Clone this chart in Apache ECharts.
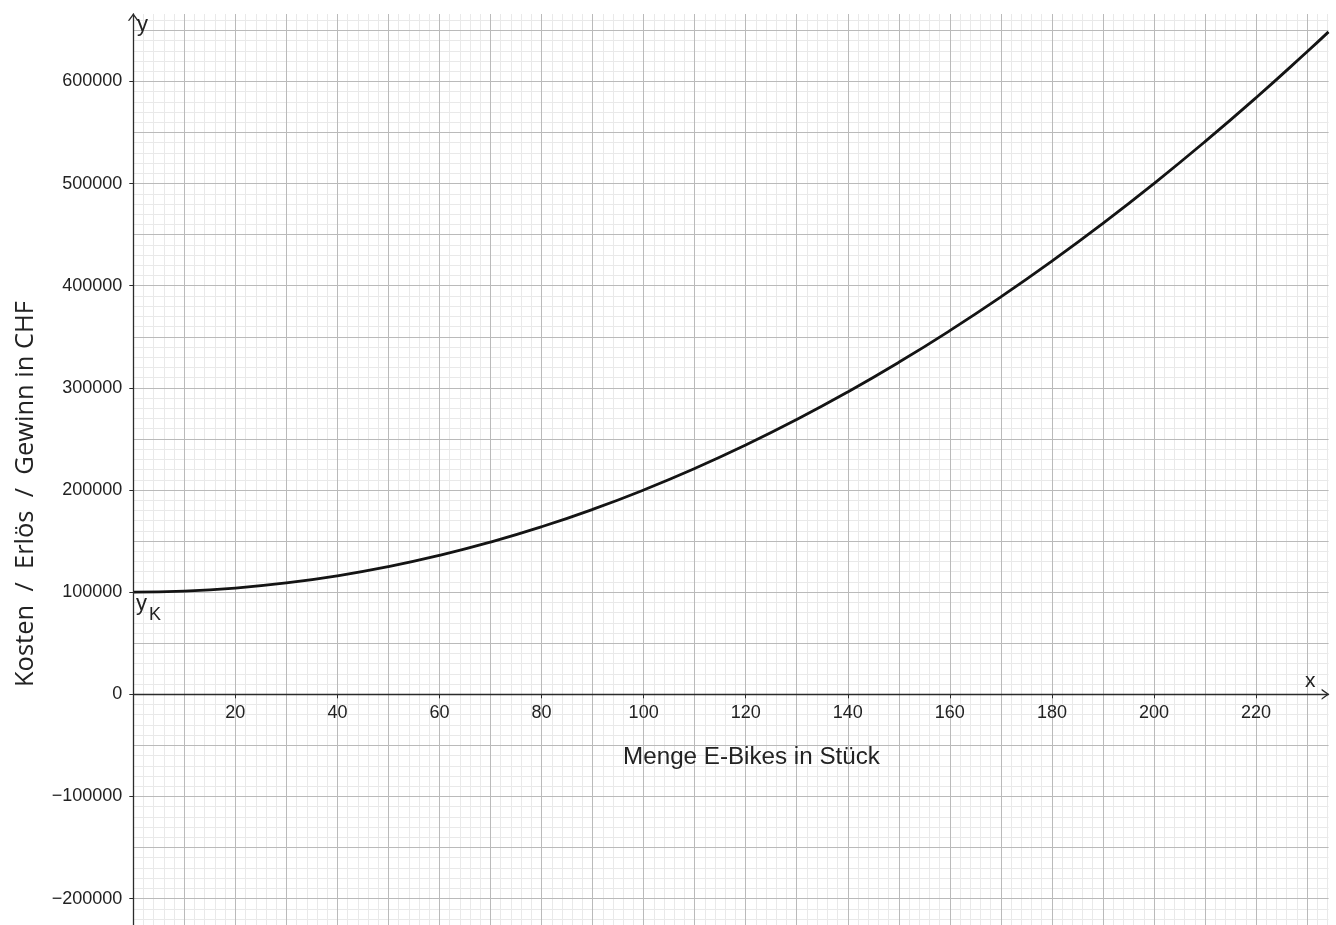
<!DOCTYPE html>
<html>
<head>
<meta charset="utf-8">
<script src="https://cdn.jsdelivr.net/npm/echarts@6/dist/echarts.min.js"></script>
<style>
    html, body { margin: 0; padding: 0; background: #fff; }
    #chart { width: 1336px; height: 925px; }
</style>
</head>
<body>
<div id="chart"></div>
<script>
// Kostenkurve y_K
const mengeX = [0, 10, 20, 30, 40, 50, 60, 70, 80, 90, 100, 110, 120, 130, 140, 150, 160, 170, 180, 190, 200, 210, 220, 230, 234.2];
const kostenY = [100000, 101000, 104000, 109000, 116000, 125000, 136000, 149000, 164000, 181000, 200000, 221000, 244000, 269000, 296000, 325000, 356000, 389000, 424000, 461000, 500000, 541000, 584000, 629000, 648500];

// Achsenbereich
const X_MIN = 0;
const X_MAX = 234.2;
const Y_MIN = -300000;
const Y_MAX = 666000;

const LABEL_FONT = '"Liberation Sans", Arial, sans-serif';
const AXIS_COLOR = '#2b2b2b';
const MAJOR_COLOR = '#bababa';
const MINOR_COLOR = '#e9e9e9';

// Abstand der x-Achse (y = 0) vom unteren Gitterrand, in Pixel
const GRID_TOP = 14;
const GRID_BOTTOM_PX = 1000.75;
const ZERO_OFFSET = -(GRID_BOTTOM_PX - GRID_TOP) * (0 - Y_MIN) / (Y_MAX - Y_MIN);

// offener Pfeil wie in GeoGebra
const ARROW = 'path://M0,7 L5,0 L10,7 L8.5,7 L5,2.1 L1.5,7 Z';

const chart = echarts.init(document.getElementById('chart'));

const gridAxis = (interval, color, z) => ({
    type: 'value',
    interval: interval,
    z: z,
    axisLine: { show: false },
    axisTick: { show: false },
    axisLabel: { show: false },
    splitLine: {
        show: true,
        showMinLine: false,
        showMaxLine: false,
        lineStyle: { color: color, width: 1 }
    }
});

const xMajor = Object.assign(gridAxis(10, MAJOR_COLOR, 1), { min: X_MIN, max: X_MAX });
const xMinor = Object.assign(gridAxis(2, MINOR_COLOR, 0), { min: X_MIN, max: X_MAX });
const yMajor = Object.assign(gridAxis(50000, MAJOR_COLOR, 1), { min: Y_MIN, max: Y_MAX });
const yMinor = Object.assign(gridAxis(10000, MINOR_COLOR, 0), { min: Y_MIN, max: Y_MAX });

const option = {
    animation: false,
    backgroundColor: '#fff',
    grid: {
        left: 133.3,
        right: 7.5,
        top: GRID_TOP,
        bottom: 925 - GRID_BOTTOM_PX,
        containLabel: false,
        outerBoundsMode: 'none'
    },
    xAxis: [
        {
            type: 'value',
            position: 'bottom',
            offset: ZERO_OFFSET,
            min: X_MIN,
            max: X_MAX,
            interval: 20,
            z: 5,
            axisLine: {
                onZero: false,
                lineStyle: { color: AXIS_COLOR, width: 1.3 },
                symbol: ['none', ARROW],
                symbolSize: [11, 8],
                symbolOffset: [0, -3]
            },
            axisTick: { show: true, length: 4, lineStyle: { color: AXIS_COLOR, width: 1 } },
            axisLabel: {
                show: true,
                margin: 9.5,
                fontSize: 18,
                fontFamily: LABEL_FONT,
                color: '#222',
                showMinLabel: false,
                showMaxLabel: false
            },
            splitLine: { show: false }
        },
        xMajor,
        xMinor
    ],
    yAxis: [
        {
            type: 'value',
            min: Y_MIN,
            max: Y_MAX,
            interval: 100000,
            z: 5,
            axisLine: {
                onZero: true,
                lineStyle: { color: AXIS_COLOR, width: 1.3 },
                symbol: ['none', ARROW],
                symbolSize: [11, 8],
                symbolOffset: [0, -3]
            },
            axisTick: { show: true, length: 4, lineStyle: { color: AXIS_COLOR, width: 1 } },
            axisLabel: {
                margin: 11,
                fontSize: 18,
                fontFamily: LABEL_FONT,
                color: '#222',
                showMinLabel: false,
                showMaxLabel: false,
                formatter: v => (v < 0 ? '\u2212' + Math.abs(v) : String(v))
            },
            splitLine: { show: false }
        },
        yMajor,
        yMinor
    ],
    series: [
        {
            name: 'y_K',
            type: 'line',
            xAxisIndex: 0,
            yAxisIndex: 0,
            smooth: true,
            showSymbol: false,
            z: 4,
            lineStyle: { color: '#141414', width: 2.8 },
            data: mengeX.map((x, i) => [x, kostenY[i]])
        }
    ],
    graphic: [
        {
            type: 'text', x: 137, y: 14, z: 10,
            style: { text: 'y', fontSize: 22, fontFamily: LABEL_FONT, fill: '#222', align: 'left', verticalAlign: 'top' }
        },
        {
            type: 'text', x: 1305, y: 671, z: 10,
            style: { text: 'x', fontSize: 21, fontFamily: LABEL_FONT, fill: '#222', align: 'left', verticalAlign: 'top' }
        },
        {
            type: 'text', x: 136, y: 593, z: 10,
            style: { text: 'y', fontSize: 22, fontFamily: LABEL_FONT, fill: '#222', align: 'left', verticalAlign: 'top' }
        },
        {
            type: 'text', x: 149, y: 606, z: 10,
            style: { text: 'K', fontSize: 18, fontFamily: LABEL_FONT, fill: '#222', align: 'left', verticalAlign: 'top' }
        },
        {
            type: 'text', x: 751.5, y: 757, z: 10,
            style: { text: 'Menge E-Bikes in Stück', fontSize: 24.2, fontFamily: LABEL_FONT, fill: '#222', align: 'center', verticalAlign: 'middle' }
        },
        {
            type: 'text', x: 26, y: 494, z: 10, rotation: Math.PI / 2,
            style: { text: 'Kosten  /  Erlös  /  Gewinn in CHF', fontSize: 25.5, fontFamily: '"Open Sans", sans-serif', fill: '#222', align: 'center', verticalAlign: 'middle' }
        }
    ]
};

chart.setOption(option);
</script>
</body>
</html>
